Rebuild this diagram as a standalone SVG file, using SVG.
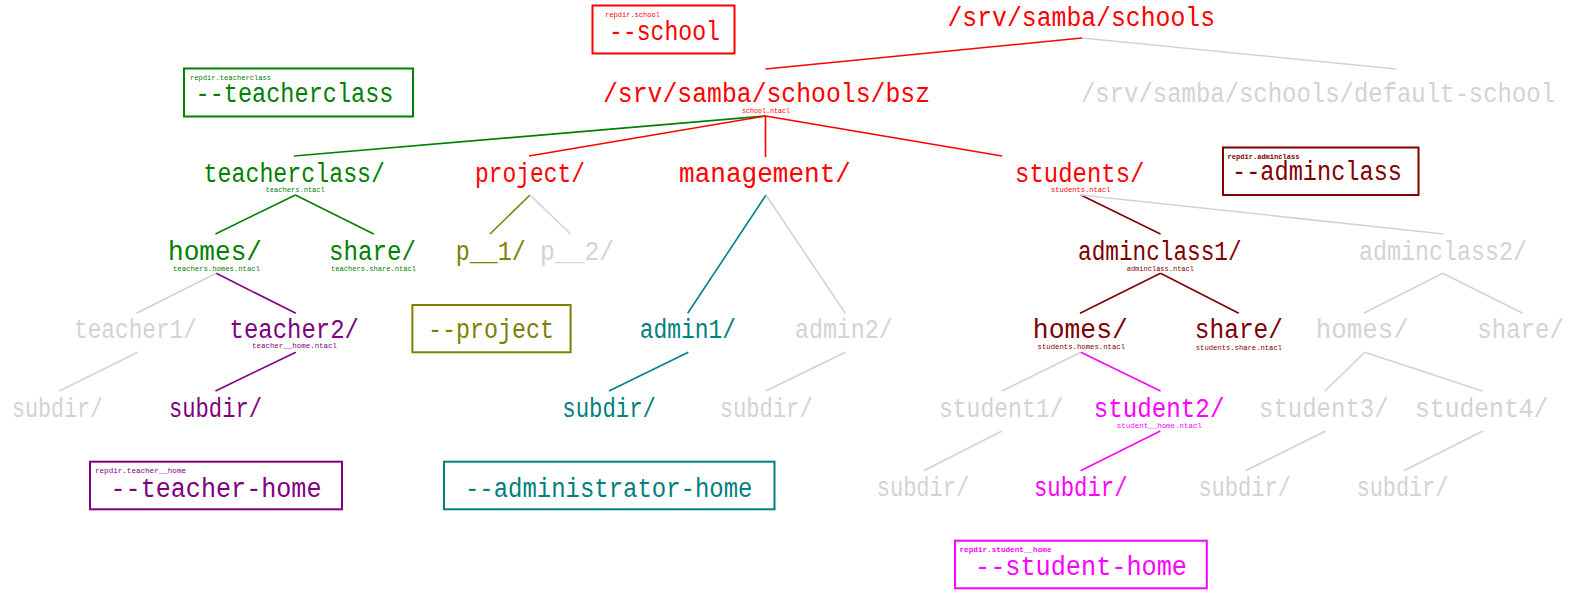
<svg xmlns="http://www.w3.org/2000/svg" width="1576" height="594" viewBox="0 0 1576 594">
<style>
text{font-family:"Liberation Mono","DejaVu Sans Mono",monospace;}
.t{font-size:27px;}
.s{font-size:8px;}
.b{font-weight:bold;}
line{stroke-width:1.6;fill:none;}
rect{fill:none;stroke-width:2;}
.red{fill:#ff0000;stroke:#ff0000;}
.gry{fill:#d3d3d3;stroke:#d3d3d3;}
.grn{fill:#008000;stroke:#008000;}
.olv{fill:#808000;stroke:#808000;}
.pur{fill:#800080;stroke:#800080;}
.tea{fill:#008080;stroke:#008080;}
.drd{fill:#800000;stroke:#800000;}
.mag{fill:#ff00ff;stroke:#ff00ff;}
text.red,text.gry,text.grn,text.olv,text.pur,text.tea,text.drd,text.mag{stroke:none;}
rect.red,rect.gry,rect.grn,rect.olv,rect.pur,rect.tea,rect.drd,rect.mag,line{fill:none;}
</style>
<rect x="0" y="0" width="1576" height="594" fill="#000" stroke="none"/>

<g id="connectors">
<line class="red" x1="1082" y1="38" x2="765.5" y2="69"/>
<line class="gry" x1="1082" y1="38" x2="1396" y2="69"/>
<line class="grn" x1="765.5" y1="116" x2="294" y2="156"/>
<line class="red" x1="765.5" y1="116" x2="529" y2="156"/>
<line class="red" x1="765.5" y1="116" x2="765.5" y2="157"/>
<line class="red" x1="765.5" y1="116" x2="1002" y2="156"/>
<line class="grn" x1="295.4" y1="195" x2="215.5" y2="234"/>
<line class="grn" x1="295.4" y1="195" x2="373.7" y2="234"/>
<line class="olv" x1="530" y1="195" x2="490" y2="234"/>
<line class="gry" x1="530" y1="195" x2="570.6" y2="234"/>
<line class="tea" x1="766" y1="195" x2="687.7" y2="313.3"/>
<line class="gry" x1="766" y1="195" x2="845.3" y2="313.3"/>
<line class="drd" x1="1080.8" y1="195" x2="1160.5" y2="234"/>
<line class="gry" x1="1080.8" y1="195" x2="1443.8" y2="234"/>
<line class="gry" x1="216.3" y1="273.3" x2="136.4" y2="313.3"/>
<line class="pur" x1="216.3" y1="273.3" x2="295.8" y2="313.3"/>
<line class="drd" x1="1160.5" y1="273.3" x2="1080" y2="313.3"/>
<line class="drd" x1="1160.5" y1="273.3" x2="1238.8" y2="313.3"/>
<line class="gry" x1="1442.7" y1="273.3" x2="1363.7" y2="313.3"/>
<line class="gry" x1="1442.7" y1="273.3" x2="1522.8" y2="313.3"/>
<line class="gry" x1="137.6" y1="352.3" x2="59.3" y2="391"/>
<line class="pur" x1="295.8" y1="352.3" x2="215.5" y2="391"/>
<line class="tea" x1="688.3" y1="352.3" x2="609" y2="391"/>
<line class="gry" x1="845.3" y1="352.3" x2="765.7" y2="391"/>
<line class="gry" x1="1080.8" y1="352.3" x2="1001.8" y2="391"/>
<line class="mag" x1="1080.8" y1="352.3" x2="1160.5" y2="391"/>
<line class="gry" x1="1364.8" y1="352.3" x2="1325" y2="391"/>
<line class="gry" x1="1364.8" y1="352.3" x2="1482.4" y2="391"/>
<line class="gry" x1="1002" y1="431" x2="923.7" y2="470.7"/>
<line class="mag" x1="1160.3" y1="431" x2="1080.6" y2="470.7"/>
<line class="gry" x1="1325.6" y1="431" x2="1245.4" y2="470.7"/>
<line class="gry" x1="1483" y1="431" x2="1403.8" y2="470.7"/>
</g>

<g id="box-school">
<rect class="red" x="592.5" y="5.5" width="142" height="48"/>
<text class="s red" x="605" y="17" textLength="55" lengthAdjust="spacingAndGlyphs">repdir.school</text>
<text class="t red" x="609" y="39.5" textLength="111" lengthAdjust="spacingAndGlyphs">--school</text>
</g>
<g id="box-teacherclass">
<rect class="grn" x="184" y="68.5" width="229" height="48"/>
<text class="s grn" x="190" y="80" textLength="81" lengthAdjust="spacingAndGlyphs">repdir.teacherclass</text>
<text class="t grn" x="195.5" y="101.7" textLength="198" lengthAdjust="spacingAndGlyphs">--teacherclass</text>
</g>
<g id="box-adminclass">
<rect class="drd" x="1223" y="147.5" width="195.5" height="47.5"/>
<text class="s b drd" x="1227.5" y="158.5" textLength="72" lengthAdjust="spacingAndGlyphs">repdir.adminclass</text>
<text class="t drd" x="1232" y="180" textLength="170" lengthAdjust="spacingAndGlyphs">--adminclass</text>
</g>
<g id="box-project">
<rect class="olv" x="412.4" y="305" width="158.2" height="47.3"/>
<text class="t olv" x="428" y="338.3" textLength="126" lengthAdjust="spacingAndGlyphs">--project</text>
</g>
<g id="box-teacher-home">
<rect class="pur" x="90" y="461.7" width="252" height="47.6"/>
<text class="s pur" x="95" y="473" textLength="91" lengthAdjust="spacingAndGlyphs">repdir.teacher__home</text>
<text class="t pur" x="110.5" y="497" textLength="211" lengthAdjust="spacingAndGlyphs">--teacher-home</text>
</g>
<g id="box-administrator-home">
<rect class="tea" x="444" y="461.7" width="330.5" height="47.6"/>
<text class="t tea" x="465" y="496.8" textLength="287.5" lengthAdjust="spacingAndGlyphs">--administrator-home</text>
</g>
<g id="box-student-home">
<rect class="mag" x="955" y="540.7" width="251.8" height="47.6"/>
<text class="s b mag" x="959.5" y="551.5" textLength="92" lengthAdjust="spacingAndGlyphs">repdir.student__home</text>
<text class="t mag" x="975" y="575" textLength="212" lengthAdjust="spacingAndGlyphs">--student-home</text>
</g>

<g id="n-schools"><text class="t red" x="947.5" y="25.5" textLength="267.5" lengthAdjust="spacingAndGlyphs">/srv/samba/schools</text></g>
<g id="n-bsz"><text class="t red" x="603" y="101.7" textLength="327" lengthAdjust="spacingAndGlyphs">/srv/samba/schools/bsz</text>
<text class="s red" x="742" y="113" textLength="48" lengthAdjust="spacingAndGlyphs">school.ntacl</text></g>
<g id="n-default-school"><text class="t gry" x="1081" y="101.7" textLength="474" lengthAdjust="spacingAndGlyphs">/srv/samba/schools/default-school</text></g>

<g id="n-teacherclass"><text class="t grn" x="203.6" y="181.7" textLength="181.4" lengthAdjust="spacingAndGlyphs">teacherclass/</text>
<text class="s grn" x="265.6" y="192" textLength="59.2" lengthAdjust="spacingAndGlyphs">teachers.ntacl</text></g>
<g id="n-project"><text class="t red" x="475" y="181.7" textLength="110" lengthAdjust="spacingAndGlyphs">project/</text></g>
<g id="n-management"><text class="t red" x="679" y="181.7" textLength="172" lengthAdjust="spacingAndGlyphs">management/</text></g>
<g id="n-students"><text class="t red" x="1015" y="181.7" textLength="129.5" lengthAdjust="spacingAndGlyphs">students/</text>
<text class="s red" x="1051" y="192.3" textLength="59.5" lengthAdjust="spacingAndGlyphs">students.ntacl</text></g>

<g id="n-t-homes"><text class="t grn" x="168" y="260" textLength="94" lengthAdjust="spacingAndGlyphs">homes/</text>
<text class="s grn" x="173" y="271" textLength="87" lengthAdjust="spacingAndGlyphs">teachers.homes.ntacl</text></g>
<g id="n-t-share"><text class="t grn" x="329" y="260" textLength="87" lengthAdjust="spacingAndGlyphs">share/</text>
<text class="s grn" x="331" y="271" textLength="85" lengthAdjust="spacingAndGlyphs">teachers.share.ntacl</text></g>
<g id="n-p1"><text class="t olv" x="455.7" y="260" textLength="70" lengthAdjust="spacingAndGlyphs">p__1/</text></g>
<g id="n-p2"><text class="t gry" x="540" y="260" textLength="74" lengthAdjust="spacingAndGlyphs">p__2/</text></g>
<g id="n-adminclass1"><text class="t drd" x="1078" y="260" textLength="163.6" lengthAdjust="spacingAndGlyphs">adminclass1/</text>
<text class="s drd" x="1126.7" y="271" textLength="67.3" lengthAdjust="spacingAndGlyphs">adminclass.ntacl</text></g>
<g id="n-adminclass2"><text class="t gry" x="1359" y="260" textLength="168" lengthAdjust="spacingAndGlyphs">adminclass2/</text></g>

<g id="n-teacher1"><text class="t gry" x="74" y="338.3" textLength="123" lengthAdjust="spacingAndGlyphs">teacher1/</text></g>
<g id="n-teacher2"><text class="t pur" x="229.5" y="338.3" textLength="129.5" lengthAdjust="spacingAndGlyphs">teacher2/</text>
<text class="s pur" x="252" y="348" textLength="85" lengthAdjust="spacingAndGlyphs">teacher__home.ntacl</text></g>
<g id="n-admin1"><text class="t tea" x="639.7" y="338.3" textLength="96.3" lengthAdjust="spacingAndGlyphs">admin1/</text></g>
<g id="n-admin2"><text class="t gry" x="795" y="338.3" textLength="97.7" lengthAdjust="spacingAndGlyphs">admin2/</text></g>
<g id="n-s-homes"><text class="t drd" x="1032.8" y="338.3" textLength="95" lengthAdjust="spacingAndGlyphs">homes/</text>
<text class="s drd" x="1037.5" y="348.5" textLength="87.5" lengthAdjust="spacingAndGlyphs">students.homes.ntacl</text></g>
<g id="n-s-share"><text class="t drd" x="1194.8" y="338.3" textLength="88.2" lengthAdjust="spacingAndGlyphs">share/</text>
<text class="s drd" x="1195.8" y="350" textLength="86.2" lengthAdjust="spacingAndGlyphs">students.share.ntacl</text></g>
<g id="n-d-homes"><text class="t gry" x="1315.7" y="338.3" textLength="93" lengthAdjust="spacingAndGlyphs">homes/</text></g>
<g id="n-d-share"><text class="t gry" x="1477.3" y="338.3" textLength="86.5" lengthAdjust="spacingAndGlyphs">share/</text></g>

<g id="n-t1-subdir"><text class="t gry" x="12" y="416.7" textLength="91" lengthAdjust="spacingAndGlyphs">subdir/</text></g>
<g id="n-t2-subdir"><text class="t pur" x="169" y="416.7" textLength="93" lengthAdjust="spacingAndGlyphs">subdir/</text></g>
<g id="n-a1-subdir"><text class="t tea" x="562.3" y="416.7" textLength="93.7" lengthAdjust="spacingAndGlyphs">subdir/</text></g>
<g id="n-a2-subdir"><text class="t gry" x="719.7" y="416.7" textLength="93" lengthAdjust="spacingAndGlyphs">subdir/</text></g>
<g id="n-student1"><text class="t gry" x="939" y="416.7" textLength="124.3" lengthAdjust="spacingAndGlyphs">student1/</text></g>
<g id="n-student2"><text class="t mag" x="1093.8" y="416.7" textLength="130.6" lengthAdjust="spacingAndGlyphs">student2/</text>
<text class="s mag" x="1116.8" y="428" textLength="85.2" lengthAdjust="spacingAndGlyphs">student__home.ntacl</text></g>
<g id="n-student3"><text class="t gry" x="1259" y="416.7" textLength="129.6" lengthAdjust="spacingAndGlyphs">student3/</text></g>
<g id="n-student4"><text class="t gry" x="1415" y="416.7" textLength="133.4" lengthAdjust="spacingAndGlyphs">student4/</text></g>

<g id="n-s1-subdir"><text class="t gry" x="876.7" y="496" textLength="92.6" lengthAdjust="spacingAndGlyphs">subdir/</text></g>
<g id="n-s2-subdir"><text class="t mag" x="1034" y="496" textLength="93.6" lengthAdjust="spacingAndGlyphs">subdir/</text></g>
<g id="n-s3-subdir"><text class="t gry" x="1198.4" y="496" textLength="92.6" lengthAdjust="spacingAndGlyphs">subdir/</text></g>
<g id="n-s4-subdir"><text class="t gry" x="1356.7" y="496" textLength="91.6" lengthAdjust="spacingAndGlyphs">subdir/</text></g>
</svg>
